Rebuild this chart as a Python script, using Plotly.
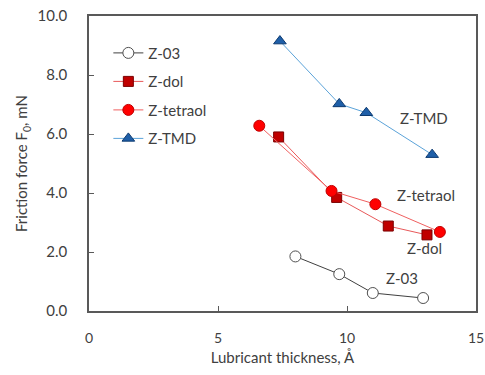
import plotly.graph_objects as go

# Data
z03_x = [8.0, 9.7, 11.0, 12.95]
z03_y = [1.85, 1.25, 0.61, 0.44]
zdol_x = [7.35, 9.6, 11.6, 13.1]
zdol_y = [5.9, 3.85, 2.88, 2.58]
ztet_x = [6.6, 9.4, 11.1, 13.6]
ztet_y = [6.28, 4.07, 3.62, 2.68]
ztmd_x = [7.4, 9.7, 10.75, 13.3]
ztmd_y = [9.15, 7.02, 6.72, 5.3]

x_ticks = [0, 5, 10, 15]
y_ticks = [0, 2, 4, 6, 8, 10]
y_tick_text = ["0.0", "2.0", "4.0", "6.0", "8.0", "10.0"]

FONT = "Lato, Open Sans, sans-serif"
TXT = "#404040"

fig = go.Figure()

fig.add_trace(go.Scatter(
    x=z03_x, y=z03_y, mode="lines+markers", name="Z-03", legendgroup="a",
    line=dict(color="#404040", width=1),
    marker=dict(symbol="circle", size=11, color="white", line=dict(color="#505050", width=1)),
))
fig.add_trace(go.Scatter(
    x=zdol_x, y=zdol_y, mode="lines+markers", name="Z-dol", legendgroup="b",
    line=dict(color="#e8595a", width=1),
    marker=dict(symbol="square", size=10, color="#c00000", line=dict(color="#7a0000", width=1)),
))
fig.add_trace(go.Scatter(
    x=ztet_x, y=ztet_y, mode="lines+markers", name="Z-tetraol", legendgroup="c",
    line=dict(color="#f06060", width=1),
    marker=dict(symbol="circle", size=11, color="#ff0000", line=dict(color="#c00000", width=1)),
))
fig.add_trace(go.Scatter(
    x=ztmd_x, y=ztmd_y, mode="lines+markers", name="Z-TMD", legendgroup="d",
    line=dict(color="#5ba3d9", width=1),
    marker=dict(symbol="triangle-up", size=11, color="#1f5fa8", line=dict(color="#0d3a70", width=1)),
))

labels = [("Z-TMD", 13.0, 6.55), ("Z-tetraol", 13.05, 3.92), ("Z-dol", 13.0, 2.15), ("Z-03", 12.15, 1.12)]
for t, x, y in labels:
    fig.add_annotation(x=x, y=y, text=t, showarrow=False,
                       font=dict(family=FONT, size=15, color=TXT))

fig.update_layout(
    width=485, height=375,
    margin=dict(l=89, r=9, t=16, b=64),
    paper_bgcolor="white", plot_bgcolor="white",
    font=dict(family=FONT, size=14, color=TXT),
    showlegend=True,
    legend=dict(x=0.05, y=0.93, xanchor="left", yanchor="top",
                bgcolor="rgba(0,0,0,0)", font=dict(family=FONT, size=15, color=TXT),
                tracegroupgap=6, itemwidth=30),
    xaxis=dict(range=[0, 15], tickvals=x_ticks, ticks="inside", ticklen=5,
               tickcolor="#595959", showline=True, linecolor="#595959", linewidth=1.5,
               mirror=True, showgrid=False, zeroline=False, automargin="bottom",
               ticklabelstandoff=13, ticklabeloverflow="allow",
               title=dict(text="Lubricant thickness, Å", font=dict(family=FONT, size=15, color=TXT), standoff=8),
               tickfont=dict(family=FONT, size=14, color=TXT)),
    yaxis=dict(range=[0, 10], tickvals=y_ticks, ticktext=y_tick_text, ticks="inside", ticklen=5,
               tickcolor="#595959", showline=True, linecolor="#595959", linewidth=1.5,
               mirror=True, showgrid=False, zeroline=False, automargin="left",
               ticklabelstandoff=17, ticklabeloverflow="allow",
               title=dict(text="Friction force F<sub>0</sub>, mN", font=dict(family=FONT, size=15, color=TXT), standoff=6),
               tickfont=dict(family=FONT, size=15, color=TXT)),
)

# remove the default page margin so the figure fills the window exactly
fig.write_html("out.html", config={"displayModeBar": False},
               post_script="document.body.style.margin='0';")
